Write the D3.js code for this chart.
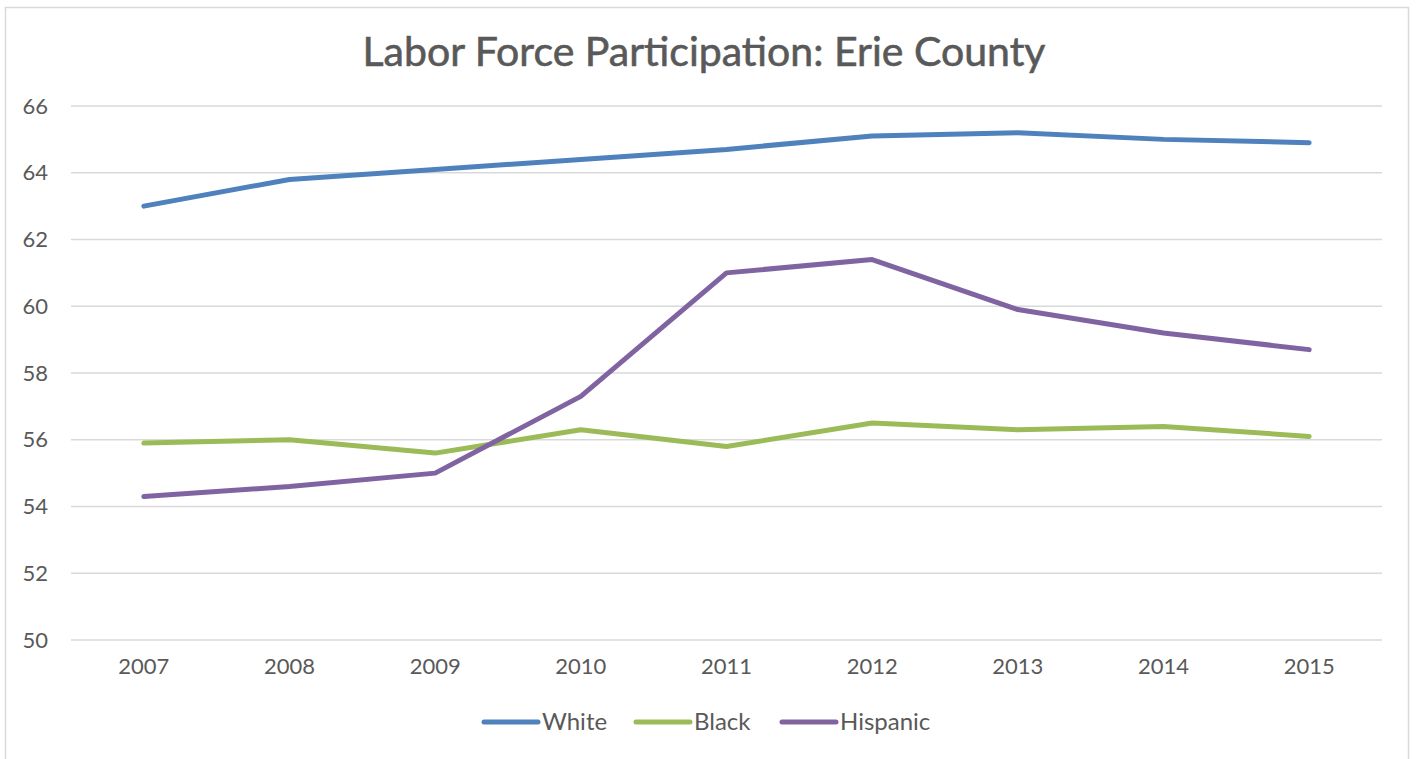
<!DOCTYPE html>
<html><head><meta charset="utf-8">
<script src="https://cdn.jsdelivr.net/npm/d3@7"></script>
<style>body{margin:0;background:#fff;}svg{display:block;font-family:"Lato","Open Sans",sans-serif;}</style>
</head><body>
<svg id="c" width="1416" height="759"></svg>
<script>
const years = ["2007","2008","2009","2010","2011","2012","2013","2014","2015"];
const white = [63.0,63.8,64.1,64.4,64.7,65.1,65.2,65.0,64.9];
const black = [55.9,56.0,55.6,56.3,55.8,56.5,56.3,56.4,56.1];
const hispanic = [54.3,54.6,55.0,57.3,61.0,61.4,59.9,59.2,58.7];
const yTicks = [50,52,54,56,58,60,62,64,66];
const seriesNames = ["White","Black","Hispanic"];
const colors = ["#4F81BD","#9BBB59","#8064A2"];
const series = [white, black, hispanic];

const svg = d3.select("#c");
svg.append("rect").attr("x",5.5).attr("y",7.5).attr("width",1403).attr("height",760)
  .attr("fill","#fff").attr("stroke","#d9d9d9").attr("stroke-width",1.5);

const x = d3.scaleBand().domain(years).range([71,1382]);
const y = d3.scaleLinear().domain([50,66]).range([640,106]);

svg.append("g").selectAll("line").data(yTicks).join("line")
  .attr("x1",71).attr("x2",1382).attr("y1",d=>y(d)).attr("y2",d=>y(d))
  .attr("stroke","#d9d9d9").attr("stroke-width",1.5);

const yAxis = d3.axisLeft(y).tickValues(yTicks).tickSize(0).tickPadding(23);
const ga = svg.append("g").attr("transform","translate(71,0)").call(yAxis);
ga.select(".domain").remove();
ga.selectAll("text").attr("font-size",22).attr("fill","#595959").attr("font-family","Lato, sans-serif");

const xAxis = d3.axisBottom(x).tickSize(0).tickPadding(18);
const gx = svg.append("g").attr("transform","translate(0,640)").call(xAxis);
gx.select(".domain").remove();
gx.selectAll("text").attr("font-size",22).attr("fill","#595959").attr("font-family","Lato, sans-serif");

const line = d3.line().x((d,i)=>x(years[i])+x.bandwidth()/2).y(d=>y(d));
svg.append("g").selectAll("path").data(series).join("path")
  .attr("d",line).attr("fill","none").attr("stroke",(d,i)=>colors[i])
  .attr("stroke-width",5).attr("stroke-linecap","round").attr("stroke-linejoin","round");

svg.append("text").attr("x",704).attr("y",66).attr("text-anchor","middle")
  .attr("font-size",41).attr("fill","#595959").attr("stroke","#595959").attr("stroke-width",0.6)
  .text("Labor Force Participation: Erie County");

const legX = [484,636,782];
const lg = svg.append("g").selectAll("g").data(seriesNames).join("g")
  .attr("transform",(d,i)=>`translate(${legX[i]},722)`);
lg.append("line").attr("x1",0).attr("x2",54).attr("y1",0).attr("y2",0)
  .attr("stroke",(d,i)=>colors[i]).attr("stroke-width",5).attr("stroke-linecap","round");
lg.append("text").attr("x",58).attr("y",8).attr("font-size",24).attr("fill","#595959").text(d=>d);
</script>
</body></html>
